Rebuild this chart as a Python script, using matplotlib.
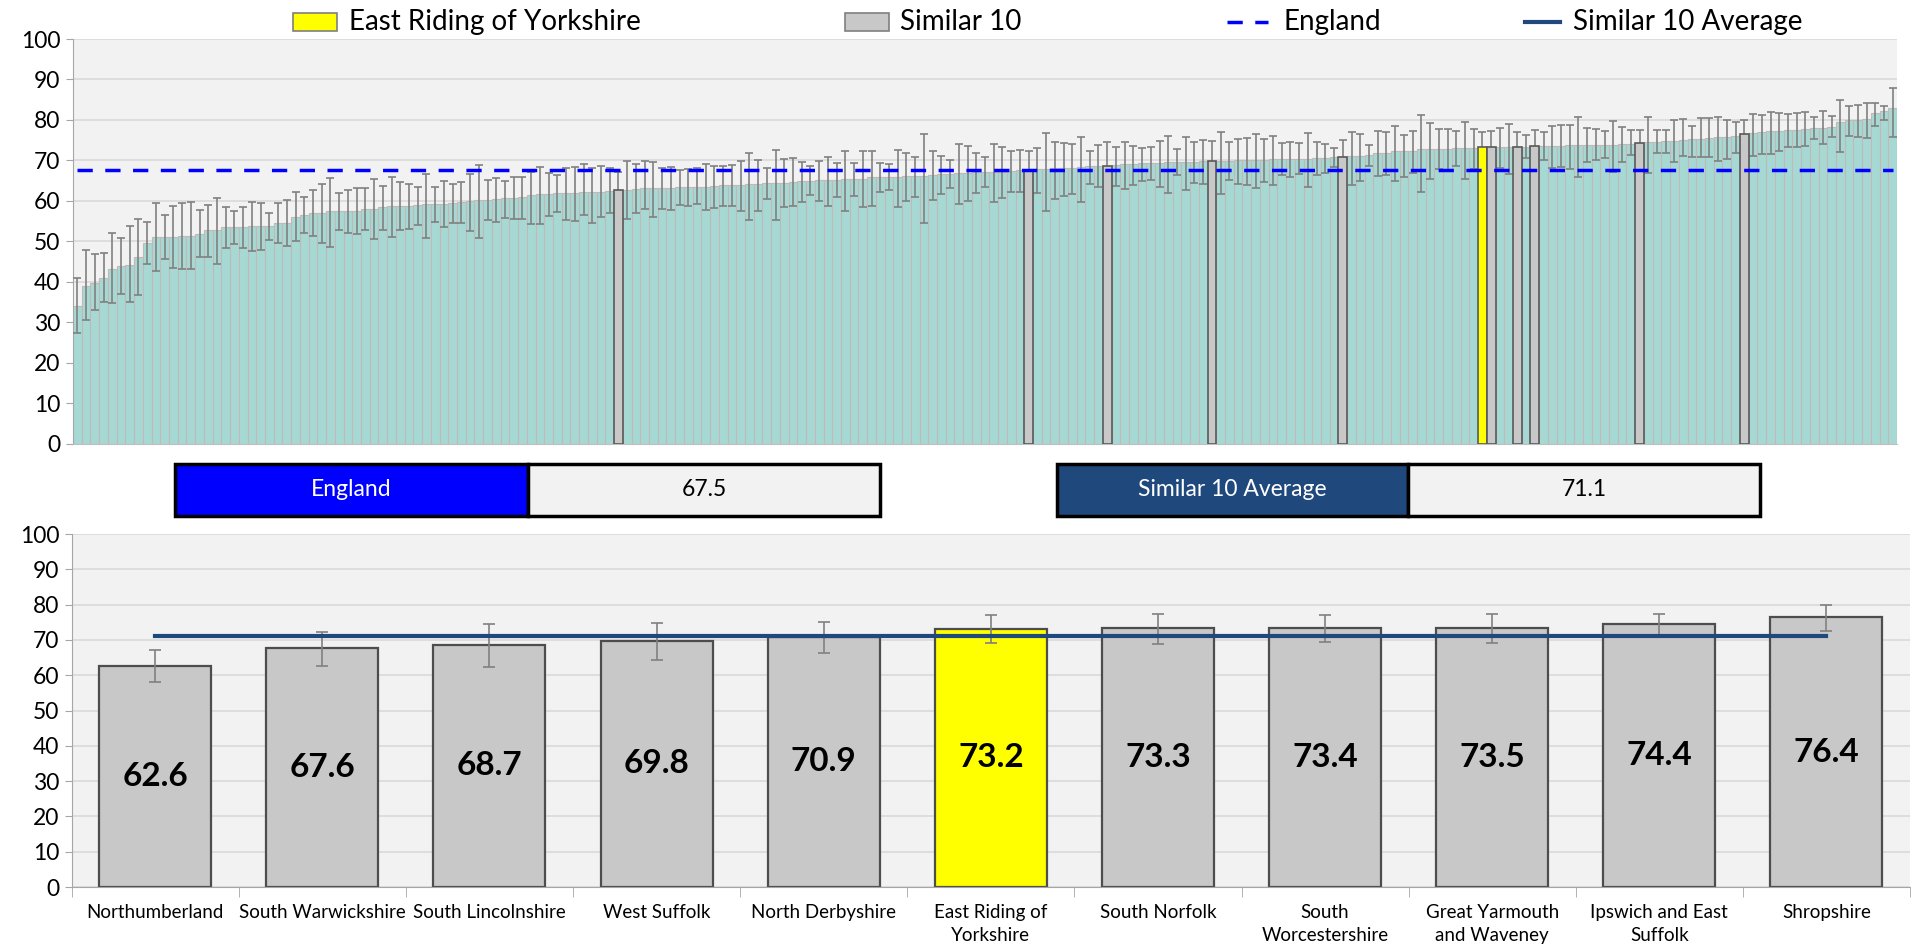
import numpy as np
import matplotlib.pyplot as plt
from matplotlib.patches import Rectangle
from matplotlib.lines import Line2D

plt.rcParams['font.family'] = ['Lato', 'DejaVu Sans']

# every area, sorted low to high (value, upper and lower confidence limit)
values = [
    33.9, 39.0, 39.8, 41.0, 43.2, 43.8, 44.2, 46.1, 49.6, 51.0,
    51.0, 51.1, 51.3, 51.4, 51.9, 52.7, 52.8, 53.5, 53.6, 53.6,
    53.7, 53.7, 53.7, 54.6, 54.6, 56.0, 56.5, 57.0, 57.1, 57.4,
    57.4, 57.5, 57.5, 58.1, 58.1, 58.4, 58.6, 58.7, 58.8, 58.9,
    59.1, 59.1, 59.3, 59.4, 59.6, 59.9, 60.2, 60.3, 60.5, 60.7,
    60.8, 60.9, 61.5, 61.6, 61.7, 61.9, 61.9, 61.9, 62.1, 62.1,
    62.3, 62.5, 62.6, 62.6, 62.9, 63.1, 63.2, 63.2, 63.2, 63.3,
    63.3, 63.5, 63.5, 63.7, 63.8, 63.9, 64.0, 64.1, 64.2, 64.3,
    64.3, 64.5, 64.7, 64.8, 65.0, 65.2, 65.2, 65.2, 65.3, 65.4,
    65.5, 65.8, 65.9, 66.0, 66.0, 66.1, 66.1, 66.2, 66.5, 66.6,
    66.6, 66.9, 67.0, 67.1, 67.1, 67.1, 67.1, 67.4, 67.5, 67.6,
    67.8, 67.8, 68.0, 68.0, 68.1, 68.3, 68.6, 68.7, 68.7, 68.9,
    69.0, 69.1, 69.3, 69.3, 69.4, 69.5, 69.6, 69.7, 69.7, 69.8,
    69.8, 69.9, 69.9, 70.0, 70.1, 70.1, 70.2, 70.3, 70.3, 70.3,
    70.4, 70.4, 70.6, 70.7, 70.8, 70.9, 71.0, 71.1, 71.4, 71.8,
    71.9, 72.2, 72.4, 72.4, 72.7, 72.7, 72.9, 72.9, 73.0, 73.0,
    73.1, 73.2, 73.3, 73.3, 73.3, 73.4, 73.4, 73.5, 73.5, 73.6,
    73.6, 73.7, 73.7, 73.8, 73.8, 73.9, 73.9, 74.0, 74.1, 74.4,
    74.5, 74.6, 74.7, 74.9, 75.0, 75.2, 75.3, 75.5, 75.7, 75.9,
    76.0, 76.4, 76.8, 76.9, 77.2, 77.3, 77.5, 77.6, 77.8, 78.1,
    78.1, 78.3, 79.5, 79.9, 80.0, 80.3, 81.6, 82.1, 83.0,
]
upper = [
    41.0, 47.9, 46.9, 47.1, 52.0, 50.7, 53.7, 55.6, 54.8, 59.4,
    56.5, 58.7, 59.5, 59.6, 57.8, 59.0, 60.7, 58.4, 57.4, 58.5,
    59.6, 59.5, 57.0, 59.4, 60.2, 62.1, 60.9, 62.7, 64.2, 65.6,
    62.0, 62.7, 63.1, 63.1, 65.3, 63.6, 66.0, 64.6, 64.2, 63.5,
    66.7, 63.3, 64.8, 64.1, 64.6, 66.7, 68.9, 65.2, 65.7, 64.9,
    66.0, 65.8, 67.1, 68.4, 66.8, 66.4, 68.1, 68.3, 69.1, 68.1,
    68.5, 68.0, 67.1, 69.8, 69.0, 69.8, 69.6, 68.1, 68.3, 67.6,
    67.8, 68.0, 69.1, 68.6, 68.6, 68.9, 69.9, 71.9, 70.1, 68.1,
    72.6, 70.3, 70.5, 69.7, 68.6, 69.9, 70.9, 69.3, 72.2, 69.4,
    72.2, 72.3, 69.3, 69.0, 72.6, 71.7, 70.8, 76.4, 72.2, 71.2,
    70.0, 74.0, 73.6, 71.9, 70.8, 74.0, 73.2, 72.4, 72.6, 72.3,
    73.0, 76.7, 74.6, 74.2, 74.0, 75.7, 72.4, 73.7, 74.5, 73.4,
    74.5, 73.6, 73.0, 73.4, 74.9, 76.1, 72.7, 75.9, 74.5, 75.0,
    74.7, 77.1, 74.6, 75.4, 75.6, 76.4, 75.2, 76.1, 74.2, 74.5,
    74.2, 76.7, 74.6, 74.1, 73.1, 75.1, 77.1, 76.5, 73.8, 77.3,
    76.9, 78.6, 76.3, 77.3, 81.2, 79.2, 77.7, 77.7, 77.3, 79.6,
    77.8, 77.1, 77.3, 78.1, 78.9, 77.1, 76.2, 77.4, 76.9, 78.4,
    78.8, 78.7, 80.6, 78.1, 77.7, 77.3, 79.8, 78.3, 77.4, 77.4,
    80.6, 77.4, 77.4, 80.0, 80.2, 78.4, 80.4, 80.4, 80.6, 80.0,
    79.5, 79.9, 81.5, 81.3, 81.9, 81.6, 81.4, 81.6, 81.9, 80.7,
    82.3, 81.0, 84.9, 83.4, 83.7, 84.2, 84.2, 83.5, 87.9,
]
lower = [
    27.3, 30.6, 33.1, 34.9, 34.7, 37.0, 35.0, 36.8, 44.3, 42.6,
    45.7, 43.5, 43.1, 43.1, 46.0, 46.0, 44.5, 48.3, 49.3, 48.4,
    47.5, 47.8, 50.4, 49.5, 48.8, 50.0, 52.0, 51.2, 49.5, 48.7,
    52.7, 52.1, 51.8, 52.7, 50.6, 52.9, 51.0, 52.9, 53.1, 54.1,
    50.8, 54.7, 53.5, 54.6, 54.6, 52.5, 50.7, 55.2, 54.8, 55.8,
    55.6, 55.6, 54.2, 54.2, 56.3, 57.2, 55.3, 55.1, 56.4, 54.4,
    56.0, 57.0, 58.1, 55.5, 56.9, 58.1, 55.9, 57.9, 57.7, 58.9,
    58.7, 59.1, 57.7, 58.2, 58.7, 58.6, 57.4, 55.3, 57.6, 60.4,
    55.3, 58.4, 58.6, 59.8, 61.4, 59.9, 58.7, 61.0, 57.6, 61.2,
    58.4, 58.7, 62.3, 62.7, 58.4, 60.0, 61.0, 54.5, 60.2, 61.6,
    63.1, 59.1, 59.9, 61.9, 63.3, 59.6, 60.6, 62.2, 62.3, 62.6,
    61.9, 57.6, 60.5, 61.2, 61.6, 59.8, 64.1, 63.3, 62.4, 63.7,
    62.9, 63.9, 65.0, 65.2, 63.3, 61.9, 66.3, 62.6, 64.5, 64.1,
    64.4, 61.7, 65.2, 64.2, 64.0, 63.1, 64.6, 63.8, 66.3, 66.0,
    66.6, 63.5, 66.4, 66.8, 68.3, 66.4, 63.9, 64.9, 68.5, 66.1,
    66.4, 65.0, 66.0, 66.8, 62.3, 65.5, 67.8, 67.6, 68.7, 65.4,
    67.9, 69.0, 68.9, 68.0, 66.7, 69.4, 70.5, 69.0, 70.0, 68.0,
    68.3, 67.8, 65.9, 69.5, 70.1, 70.6, 67.2, 69.5, 71.3, 71.4,
    67.0, 71.8, 71.9, 69.7, 71.0, 70.8, 70.8, 70.8, 69.9, 70.4,
    71.7, 72.6, 71.1, 71.6, 71.5, 72.3, 73.3, 73.4, 73.6, 75.4,
    74.1, 75.9, 72.0, 76.1, 75.8, 75.6, 78.6, 80.1, 75.7,
]

# the ten similar areas plus East Riding, with their place in the sorted list
similar_names = ['Northumberland', 'South Warwickshire', 'South Lincolnshire',
                 'West Suffolk', 'North Derbyshire', 'East Riding of\nYorkshire',
                 'South Norfolk', 'South\nWorcestershire', 'Great Yarmouth\nand Waveney',
                 'Ipswich and East\nSuffolk', 'Shropshire']
similar_values = [62.6, 67.6, 68.7, 69.8, 70.9, 73.2, 73.3, 73.4, 73.5, 74.4, 76.4]
similar_rank = [62, 109, 118, 130, 145, 161, 162, 165, 167, 179, 191]
home_name = 'East Riding of Yorkshire'
england = 67.5
similar_avg = 71.1

teal = '#A7D9D4'
grey = '#C8C8C8'
yellow = '#FFFF00'
bg = '#F2F2F2'
grid = '#D9D9D9'
navy = '#1F497D'

values = np.array(values)
upper = np.array(upper)
lower = np.array(lower)
n = len(values)
x = np.arange(n)
home = similar_names.index('East Riding of\nYorkshire')
bar_cols = [yellow if i == home else grey for i in range(len(similar_names))]

fig = plt.figure(figsize=(19.11, 9.49), dpi=100)

# ---- top: every area ----
ax1 = fig.add_axes([0.0382, 0.5326, 0.9545, 0.4263])
ax1.set_facecolor(bg)
ax1.bar(x, values, width=1.0, color=teal, edgecolor='#C3B8B8', linewidth=0.8, zorder=2)
ax1.errorbar(x, values, yerr=[values - lower, upper - values], fmt='none',
             ecolor='#808080', elinewidth=1.2, capsize=3.2, capthick=1.2, zorder=3)
ax1.bar(similar_rank, similar_values, width=1.0, color=bar_cols,
        edgecolor='#595959', linewidth=1.2, zorder=4)
ax1.plot(x, np.full(n, england), color='#0000FF', lw=2.5,
         dashes=(4.4, 3.6), zorder=5)
ax1.set_xlim(-0.5, n - 0.5)
ax1.set_ylim(0, 100)
ax1.set_yticks(range(0, 101, 10))
ax1.set_xticks([])
ax1.grid(axis='y', color=grid, lw=1.2, zorder=0)
ax1.set_axisbelow(True)
for s in ['top', 'right']:
    ax1.spines[s].set_visible(False)
ax1.spines['left'].set_color('#A6A6A6')
ax1.spines['bottom'].set_color('#BFBFBF')
ax1.tick_params(axis='y', length=5, color='#A6A6A6', labelsize=16.5, pad=4)

# ---- bottom: the similar 10 ----
ax2 = fig.add_axes([0.0375, 0.0653, 0.962, 0.372])
ax2.set_facecolor(bg)
xs = np.arange(len(similar_names))
rk = np.array(similar_rank)
sv = np.array(similar_values)
ax2.bar(xs, sv, width=0.67, color=bar_cols, edgecolor='#4D4D4D', linewidth=1.6, zorder=2)
ax2.errorbar(xs, sv, yerr=[sv - lower[rk], upper[rk] - sv], fmt='none',
             ecolor='#808080', elinewidth=1.2, capsize=4.5, capthick=1.2, zorder=3)
ax2.plot(xs, np.full(len(xs), similar_avg), color=navy, lw=3.0, zorder=4)
for xi, v in zip(xs, sv):
    ax2.text(xi, v / 2, f'{v:.1f}', ha='center', va='center', fontsize=24,
             fontweight='bold', zorder=5)
ax2.set_xlim(-0.5, len(xs) - 0.5)
ax2.set_ylim(0, 100)
ax2.set_yticks(range(0, 101, 10))
ax2.set_xticks(xs)
ax2.set_xticklabels(similar_names, fontsize=13.5, linespacing=1.45)
ax2.set_xticks(np.arange(-0.5, len(xs), 1), minor=True)
ax2.tick_params(axis='x', which='major', length=0, pad=12)
ax2.tick_params(axis='x', which='minor', length=7, color='#A6A6A6')
ax2.tick_params(axis='y', length=5, color='#A6A6A6', labelsize=16.5, pad=4)
ax2.grid(axis='y', color=grid, lw=1.2, zorder=0)
ax2.set_axisbelow(True)
for s in ['top', 'right']:
    ax2.spines[s].set_visible(False)
ax2.spines['left'].set_color('#A6A6A6')
ax2.spines['bottom'].set_color('#A6A6A6')

# ---- summary boxes ----
W, H = 1911.0, 949.0


def box(x0, xm, x1, label, colour, val):
    y0 = 1 - 516 / H
    h = 52 / H
    fig.add_artist(Rectangle((x0 / W, y0), (xm - x0) / W, h, transform=fig.transFigure,
                             facecolor=colour, edgecolor='black', lw=2.5))
    fig.add_artist(Rectangle((xm / W, y0), (x1 - xm) / W, h, transform=fig.transFigure,
                             facecolor=bg, edgecolor='black', lw=2.5))
    fig.text((x0 + xm) / 2 / W, y0 + h / 2, label, color='white', fontsize=16.5,
             ha='center', va='center')
    fig.text((xm + x1) / 2 / W, y0 + h / 2, f'{val:.1f}', color='black', fontsize=16.5,
             ha='center', va='center')


box(175, 528, 880, 'England', '#0000FF', england)
box(1057, 1408, 1760, 'Similar 10 Average', navy, similar_avg)

# ---- legend along the top ----
ly = 1 - 22 / H
sw_h = 18 / H
fs_leg = 20
fig.add_artist(Rectangle((293 / W, ly - sw_h / 2), 44 / W, sw_h, transform=fig.transFigure,
                         facecolor=yellow, edgecolor='#7F7F7F', lw=1.2))
fig.text(349 / W, ly, home_name, fontsize=fs_leg, va='center')
fig.add_artist(Rectangle((845 / W, ly - sw_h / 2), 44 / W, sw_h, transform=fig.transFigure,
                         facecolor=grey, edgecolor='#7F7F7F', lw=1.2))
fig.text(900 / W, ly, 'Similar 10', fontsize=fs_leg, va='center')
fig.add_artist(Line2D([1227 / W, 1268 / W], [ly, ly], transform=fig.transFigure,
                      color='#0000FF', lw=2.5, dashes=(4.4, 3.6)))
fig.text(1284 / W, ly, 'England', fontsize=fs_leg, va='center')
fig.add_artist(Line2D([1525 / W, 1560 / W], [ly, ly], transform=fig.transFigure,
                      color=navy, lw=3.0))
fig.text(1573 / W, ly, 'Similar 10 Average', fontsize=fs_leg, va='center')

fig.savefig('out.png', dpi=100)
